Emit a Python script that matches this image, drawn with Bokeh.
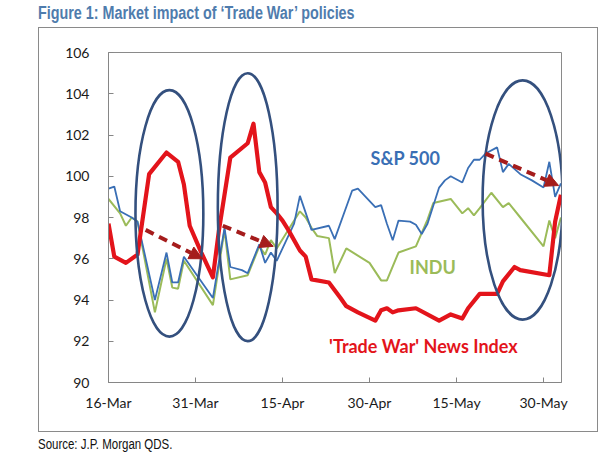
import pandas as pd
from bokeh.plotting import figure
from bokeh.models import (Div, FixedTicker, DatetimeTickFormatter, Range1d, Arrow,
                          NormalHead, ColumnDataSource)
from bokeh.layouts import column
from bokeh.embed import file_html
from bokeh.resources import INLINE
from bokeh.core.properties import value

START = "2018-03-16"
x_ticks_day = [0, 15, 30, 45, 60, 75]
y_ticks = [90, 92, 94, 96, 98, 100, 102, 104, 106]

# S&P 500 (day offsets from START, index values)
sp_day = [0, 1, 2, 4, 5, 8, 10, 11, 12, 13, 18, 20, 21, 23, 24, 26, 27, 28, 29, 32, 33, 35, 38, 39, 42,
          43, 46, 47, 48, 49, 50, 52, 53, 54, 55, 57, 58, 59, 61, 62, 63, 64, 65, 67, 68, 69, 71, 73,
          75, 76, 77, 78]
sp_val = [99.4, 99.5, 98.3, 98.0, 97.8, 94.0, 96.3, 94.85, 94.85, 96.1, 94.1, 97.5, 95.6, 95.45, 95.3,
          96.7, 95.8, 96.3, 95.9, 97.7, 99.05, 97.4, 97.6, 96.95, 99.3, 99.4, 98.5, 98.6, 97.7, 96.9,
          97.85, 97.8, 97.65, 97.2, 97.7, 99.45, 99.8, 100.0, 99.7, 100.4, 100.8, 100.8, 101.1, 101.4,
          100.2, 100.6, 100.1, 99.8, 99.45, 100.7, 99.0, 99.65]

# INDU
in_day = [0, 2, 3, 4, 5, 8, 10, 11, 12, 13, 18, 20, 21, 24, 26, 27, 28, 29, 33, 34, 35, 36, 38, 39, 41,
          45, 47, 48, 50, 53, 55, 56, 59, 61, 62, 63, 64, 66, 68, 69, 71, 75, 76, 77, 78]
in_val = [98.9, 98.2, 97.6, 98.0, 97.8, 93.4, 96.0, 94.6, 94.55, 95.9, 93.75, 97.4, 95.0, 95.2, 96.6,
          96.2, 96.9, 96.5, 98.3, 98.0, 97.5, 97.1, 97.0, 95.3, 96.5, 95.8, 94.95, 94.95, 96.3, 96.6,
          97.9, 98.7, 98.9, 98.2, 98.45, 98.1, 98.45, 99.2, 98.5, 98.7, 98.0, 96.6, 97.85, 97.0, 98.0]

# 'Trade War' News Index
nw_day = [0, 1, 3, 5, 7, 10, 12, 13, 14, 16, 18, 19, 21, 24, 25, 26, 27, 28, 29, 30, 31, 33, 34, 35, 38,
          40, 41, 43, 46, 47, 48, 49, 50, 53, 57, 59, 61, 62, 64, 67, 68, 70, 71, 76, 77, 78]
nw_val = [97.7, 96.1, 95.8, 96.2, 100.1, 101.15, 100.7, 99.6, 97.6, 96.3, 95.1, 97.3, 100.9, 101.6,
          102.55, 100.2, 99.7, 98.5, 98.2, 97.85, 97.4, 96.4, 96.1, 95.0, 94.85, 94.1, 93.7, 93.4, 93.0,
          93.5, 93.6, 93.4, 93.5, 93.6, 93.0, 93.3, 93.1, 93.6, 94.3, 94.3, 94.9, 95.6, 95.45, 95.2,
          97.8, 99.1]

# Highlight ellipses (centre day, centre value, width in days, height in index points)
ell_day = [10.5, 24.0, 71.4]
ell_val = [98.2, 98.5, 98.85]
ell_w_days = [11.7, 10.3, 13.8]
ell_h = [11.95, 13.0, 11.6]

# Dashed trend arrows
arr_day0 = [6.4, 19.7, 65.0]
arr_val0 = [97.4, 97.6, 101.1]
arr_day1 = [16.2, 28.4, 77.6]
arr_val1 = [96.0, 96.6, 99.55]

# Series labels
lbl_text = ["S&P 500", "INDU", "'Trade War' News Index"]
lbl_day = [51.2, 55.9, 54.3]
lbl_val = [100.9, 95.6, 91.75]
lbl_color = ["#3a6fb5", "#9bbb59", "#e3141b"]

X_END_DAY = 78.1

t0 = pd.Timestamp(START)
DAY_MS = 86400000.0


def to_dt(days):
    return [t0 + pd.Timedelta(days=d) for d in days]


def to_ms(days):
    return [t0.value / 1e6 + d * DAY_MS for d in days]


p = figure(width=558, height=403, x_axis_type="datetime", output_backend="svg",
           toolbar_location=None, min_border_left=69, min_border_right=36,
           min_border_top=24, min_border_bottom=49,
           x_range=Range1d(to_ms([0])[0], to_ms([X_END_DAY])[0]),
           y_range=Range1d(90, 106))
p.styles = {"outline": "1px solid #8a8a8a"}
p.outline_line_color = "#8a8a8a"
p.outline_line_width = 1
p.xgrid.visible = False
p.ygrid.visible = False
p.background_fill_color = "white"
p.border_fill_color = "white"

p.xaxis.ticker = FixedTicker(ticks=to_ms(x_ticks_day))
fmt = "%d-%b"
p.xaxis.formatter = DatetimeTickFormatter(days=fmt, months=fmt, hours=fmt, minutes=fmt,
                                          seconds=fmt, milliseconds=fmt, years=fmt,
                                          hourmin=fmt, minsec=fmt)
p.yaxis.ticker = FixedTicker(ticks=y_ticks)
for ax in (p.xaxis, p.yaxis):
    ax.axis_line_color = "#868686"
    ax.major_tick_line_color = "#868686"
    ax.major_tick_in = 5
    ax.major_tick_out = 0
    ax.minor_tick_line_color = None
    ax.major_label_text_font = "Lato"
    ax.major_label_text_font_size = "14px"
    ax.major_label_text_color = "#1a1a1a"
p.yaxis.major_label_standoff = 19
p.xaxis.major_label_standoff = 11

p.line(to_dt(in_day), in_val, line_color="#9bbb59", line_width=2)
p.line(to_dt(sp_day), sp_val, line_color="#3a6fb5", line_width=1.8)
p.line(to_dt(nw_day), nw_val, line_color="#e3141b", line_width=4.2, line_join="round")

p.ellipse(x=to_ms(ell_day), y=ell_val, width=[w * DAY_MS for w in ell_w_days], height=ell_h,
          fill_color=None, line_color="#34507e", line_width=2.6)

for xs, ys, xe, ye in zip(to_ms(arr_day0), arr_val0, to_ms(arr_day1), arr_val1):
    p.add_layout(Arrow(end=NormalHead(size=13, fill_color="#a51c1c", line_color="#a51c1c"),
                       x_start=xs, y_start=ys, x_end=xe, y_end=ye,
                       line_color="#a51c1c", line_width=4, line_dash="9 6"))

src = ColumnDataSource(dict(x=to_ms(lbl_day), y=lbl_val, t=lbl_text, c=lbl_color))
p.text(x="x", y="y", text="t", text_color="c", source=src, text_align="center",
       text_baseline="middle", text_font=value("Lato"), text_font_size="18px",
       text_font_style="bold")

narrow = "display:inline-block; transform:scaleX(0.82); transform-origin:0 0;"
title = Div(text=f'<span style="{narrow}">Figure 1: Market impact of \u2018Trade War\u2019 policies</span>',
            width=540, height=22, margin=(4, 0, 0, 38),
            styles={"font-family": "Liberation Sans, Arial, sans-serif",
                    "font-size": "17.5px", "font-weight": "bold", "color": "#4f7cad",
                    "line-height": "19px", "white-space": "nowrap"})
p.margin = (2, 0, 0, 39)
source = Div(text=f'<span style="{narrow}">Source: J.P. Morgan QDS.</span>',
             width=540, height=16, margin=(5, 0, 0, 38),
             styles={"font-family": "Liberation Sans, Arial, sans-serif",
                     "font-size": "14px", "color": "#111111", "line-height": "16px",
                     "white-space": "nowrap"})

layout = column(title, p, source, spacing=0)
open("out.html", "w").write(file_html(layout, INLINE))
